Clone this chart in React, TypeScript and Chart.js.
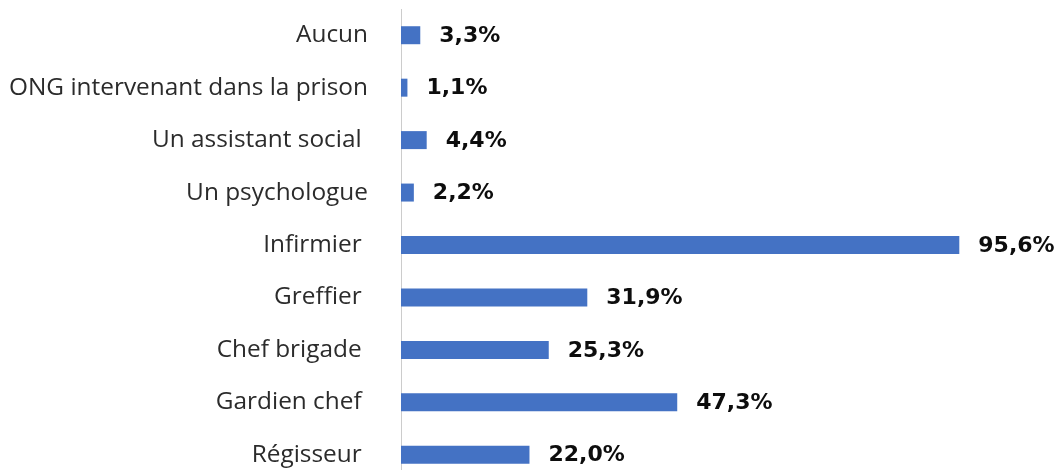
import React, { useEffect, useRef } from "react";
import { Chart, registerables } from "chart.js";

Chart.register(...registerables);

const categories = [
  "Aucun",
  "ONG intervenant dans la prison",
  "Un assistant social ",
  "Un psychologue",
  "Infirmier ",
  "Greffier ",
  "Chef brigade ",
  "Gardien chef ",
  "Régisseur ",
];
const values = [3.3, 1.1, 4.4, 2.2, 95.6, 31.9, 25.3, 47.3, 22.0];
const valueLabels = ["3,3%", "1,1%", "4,4%", "2,2%", "95,6%", "31,9%", "25,3%", "47,3%", "22,0%"];

const labelPlugin = {
  id: "valueLabels",
  afterDatasetsDraw(chart: any) {
    const ctx = chart.ctx;
    const meta = chart.getDatasetMeta(0);
    ctx.save();
    ctx.font = "bold 22px 'DejaVu Sans'";
    ctx.fillStyle = "#0d0d0d";
    ctx.textAlign = "left";
    ctx.textBaseline = "middle";
    meta.data.forEach((bar: any, i: number) => {
      ctx.fillText(valueLabels[i], bar.x + 19, bar.y + 1);
    });
    ctx.restore();
  },
};

export default function App() {
  const ref = useRef<HTMLCanvasElement>(null);
  useEffect(() => {
    if (!ref.current) return;
    const chart = new Chart(ref.current, {
      type: "bar",
      data: {
        labels: categories,
        datasets: [
          {
            data: values,
            backgroundColor: "#4472C4",
            borderWidth: 0,
            categoryPercentage: 1,
            barPercentage: 0.343,
          },
        ],
      },
      options: {
        indexAxis: "y",
        animation: false,
        responsive: true,
        maintainAspectRatio: false,
        layout: { padding: { top: 9, bottom: 9, left: 0, right: 76 } },
        plugins: { legend: { display: false }, tooltip: { enabled: false } },
        scales: {
          x: { display: false, min: 0, max: 100 },
          y: {
            afterFit(scale: any) {
              scale.width = 401;
              scale.paddingTop = 0;
              scale.paddingBottom = 0;
            },
            grid: { display: false, drawTicks: false },
            border: { display: true, color: "#cccccc", width: 1 },
            ticks: {
              padding: 33,
              color: "#2b2b2b",
              font: { family: "'Open Sans'", size: 24.4 },
            },
          },
        },
      },
      plugins: [labelPlugin],
    });
    return () => chart.destroy();
  }, []);
  return (
    <div style={{ position: "absolute", left: 0, top: 0, width: 1061, height: 490, background: "#fff" }}>
      <canvas ref={ref} />
    </div>
  );
}
